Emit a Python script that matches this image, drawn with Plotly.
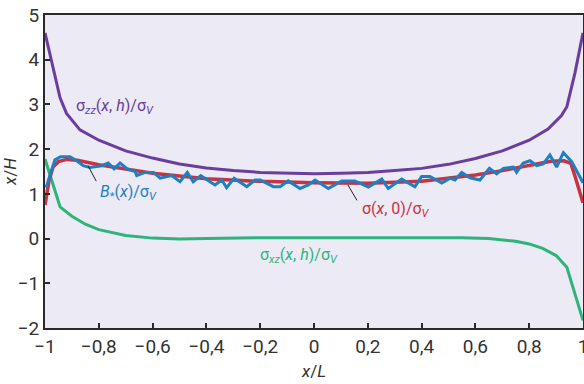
import plotly.graph_objects as go

# sigma_zz(x,h)/sigma_V
x_zz = [-1, -0.97, -0.944, -0.92, -0.87, -0.8, -0.7, -0.6, -0.5, -0.4, -0.3, -0.2, -0.1, 0,
        0.1, 0.2, 0.3, 0.4, 0.5, 0.6, 0.7, 0.8, 0.87, 0.92, 0.94, 0.97, 1]
y_zz = [4.6, 3.85, 3.15, 2.8, 2.43, 2.2, 1.96, 1.8, 1.67, 1.58, 1.52, 1.48, 1.46, 1.45,
        1.46, 1.48, 1.52, 1.57, 1.66, 1.79, 1.96, 2.2, 2.45, 2.75, 2.95, 3.7, 4.6]

# sigma(x,0)/sigma_V
x_s0 = [-1, -0.985, -0.97, -0.95, -0.92, -0.88, -0.8, -0.6, -0.4, -0.2, 0, 0.2, 0.4, 0.6,
        0.7, 0.8, 0.88, 0.93, 0.955, 0.97, 1]
y_s0 = [0.75, 1.3, 1.6, 1.72, 1.77, 1.75, 1.65, 1.46, 1.34, 1.28, 1.25, 1.24, 1.28, 1.42,
        1.52, 1.63, 1.73, 1.74, 1.68, 1.4, 0.8]

# B*(x)/sigma_V
x_b = [-0.996, -0.963, -0.942, -0.907, -0.882, -0.858, -0.833, -0.789, -0.765, -0.743,
       -0.721, -0.694, -0.665, -0.659, -0.628, -0.597, -0.572, -0.529, -0.498, -0.471,
       -0.449, -0.421, -0.387, -0.368, -0.343, -0.325, -0.297, -0.25, -0.219, -0.2,
       -0.151, -0.126, -0.096, -0.052, -0.021, 0.004, 0.053, 0.103, 0.152, 0.202,
       0.252, 0.276, 0.326, 0.345, 0.375, 0.4, 0.431, 0.475, 0.506, 0.524, 0.549,
       0.58, 0.617, 0.652, 0.679, 0.704, 0.741, 0.753, 0.778, 0.803, 0.828, 0.852,
       0.877, 0.902, 0.927, 0.958, 0.979, 1.0]
y_b = [1.14, 1.76, 1.83, 1.83, 1.74, 1.63, 1.59, 1.63, 1.69, 1.56,
       1.69, 1.56, 1.50, 1.41, 1.48, 1.48, 1.35, 1.41, 1.27, 1.48,
       1.27, 1.41, 1.27, 1.20, 1.31, 1.14, 1.35, 1.16, 1.31, 1.31,
       1.16, 1.16, 1.29, 1.12, 1.20, 1.31, 1.12, 1.29, 1.29, 1.15,
       1.33, 1.12, 1.33, 1.27, 1.16, 1.39, 1.39, 1.24, 1.35, 1.31, 1.48,
       1.36, 1.31, 1.57, 1.45, 1.57, 1.60, 1.48, 1.69, 1.74, 1.63, 1.67,
       1.87, 1.60, 1.92, 1.72, 1.50, 1.25]

# sigma_xz(x,h)/sigma_V
x_xz = [-1, -0.944, -0.9, -0.85, -0.8, -0.7, -0.6, -0.5, -0.4, -0.2, 0, 0.2, 0.4, 0.55,
        0.65, 0.75, 0.8, 0.85, 0.9, 0.94, 1]
y_xz = [1.78, 0.71, 0.5, 0.32, 0.2, 0.07, 0.01, -0.01, 0.0, 0.02, 0.02, 0.02, 0.02, 0.02,
        0.0, -0.06, -0.12, -0.22, -0.38, -0.64, -1.83]

x_tickvals = [-1, -0.8, -0.6, -0.4, -0.2, 0, 0.2, 0.4, 0.6, 0.8, 1]
x_ticktext = ["−1", "−0,8", "−0,6", "−0,4", "−0,2", "0", "0,2", "0,4", "0,6", "0,8", "1"]
y_tickvals = [-2, -1, 0, 1, 2, 3, 4, 5]
y_ticktext = ["−2", "−1", "0", "1", "2", "3", "4", "5"]

PURPLE = "#6A3D9E"
RED = "#C9323F"
BLUE = "#1F7FC3"
GREEN = "#2EB47B"
FONT = "Roboto, Arial, sans-serif"

fig = go.Figure()
fig.add_trace(go.Scatter(x=x_xz, y=y_xz, mode="lines", line=dict(color=GREEN, width=3)))
fig.add_trace(go.Scatter(x=x_zz, y=y_zz, mode="lines", line=dict(color=PURPLE, width=3)))
fig.add_trace(go.Scatter(x=x_s0, y=y_s0, mode="lines", line=dict(color=RED, width=3.5)))
fig.add_trace(go.Scatter(x=x_b, y=y_b, mode="lines", line=dict(color=BLUE, width=3)))

ann_font = dict(family=FONT, size=16)
annotations = [
    dict(x=-0.892, y=2.95, text="σ<sub><i>zz</i></sub>(<i>x</i>, <i>h</i>)/σ<sub><i>V</i></sub>",
         font=dict(color=PURPLE, **ann_font)),
    dict(x=-0.803, y=1.04, text="<i>B</i><sub>*</sub>(<i>x</i>)/σ<sub><i>V</i></sub>",
         font=dict(color=BLUE, **ann_font)),
    dict(x=0.171, y=0.66, text="σ(<i>x</i>, 0)/σ<sub><i>V</i></sub>",
         font=dict(color=RED, **ann_font)),
    dict(x=-0.208, y=-0.37, text="σ<sub><i>xz</i></sub>(<i>x</i>, <i>h</i>)/σ<sub><i>V</i></sub>",
         font=dict(color=GREEN, **ann_font)),
]
for a in annotations:
    a.update(xref="x", yref="y", xanchor="left", yanchor="middle", showarrow=False)
    fig.add_annotation(**a)

# leader lines
fig.add_annotation(x=-0.84, y=1.63, ax=9, ay=17, text="", showarrow=True, arrowhead=0,
                   arrowwidth=1, arrowcolor="#222", standoff=0, startstandoff=0)
fig.add_annotation(x=0.126, y=1.20, ax=10, ay=17, text="", showarrow=True, arrowhead=0,
                   arrowwidth=1, arrowcolor="#222", standoff=0, startstandoff=0)

axis_common = dict(showgrid=False, zeroline=False, showline=True, linecolor="#2a2a2a",
                   linewidth=2, mirror=True, ticks="inside", ticklen=5, tickwidth=1.5,
                   tickcolor="#2a2a2a", tickfont=dict(family=FONT, size=19, color="#333"),
                   automargin=False, ticklabeloverflow="allow")

fig.update_layout(
    width=584, height=384,
    margin=dict(l=45, r=1, t=15, b=56),
    paper_bgcolor="white", plot_bgcolor="#ECEAF5",
    showlegend=False,
    xaxis=dict(range=[-1, 1], tickvals=x_tickvals, ticktext=x_ticktext,
               title=dict(text="<i>x</i>/<i>L</i>", font=dict(family=FONT, size=17, color="#333"),
                          standoff=8), **axis_common),
    yaxis=dict(range=[-2, 5], tickvals=y_tickvals, ticktext=y_ticktext,
               title=dict(text="<i>x</i>/<i>H</i>", font=dict(family=FONT, size=17, color="#333"),
                          standoff=6), **axis_common),
)

fig.write_html("out.html", config={"displayModeBar": False},
               post_script="document.body.style.margin='0';document.body.style.overflow='hidden';")
